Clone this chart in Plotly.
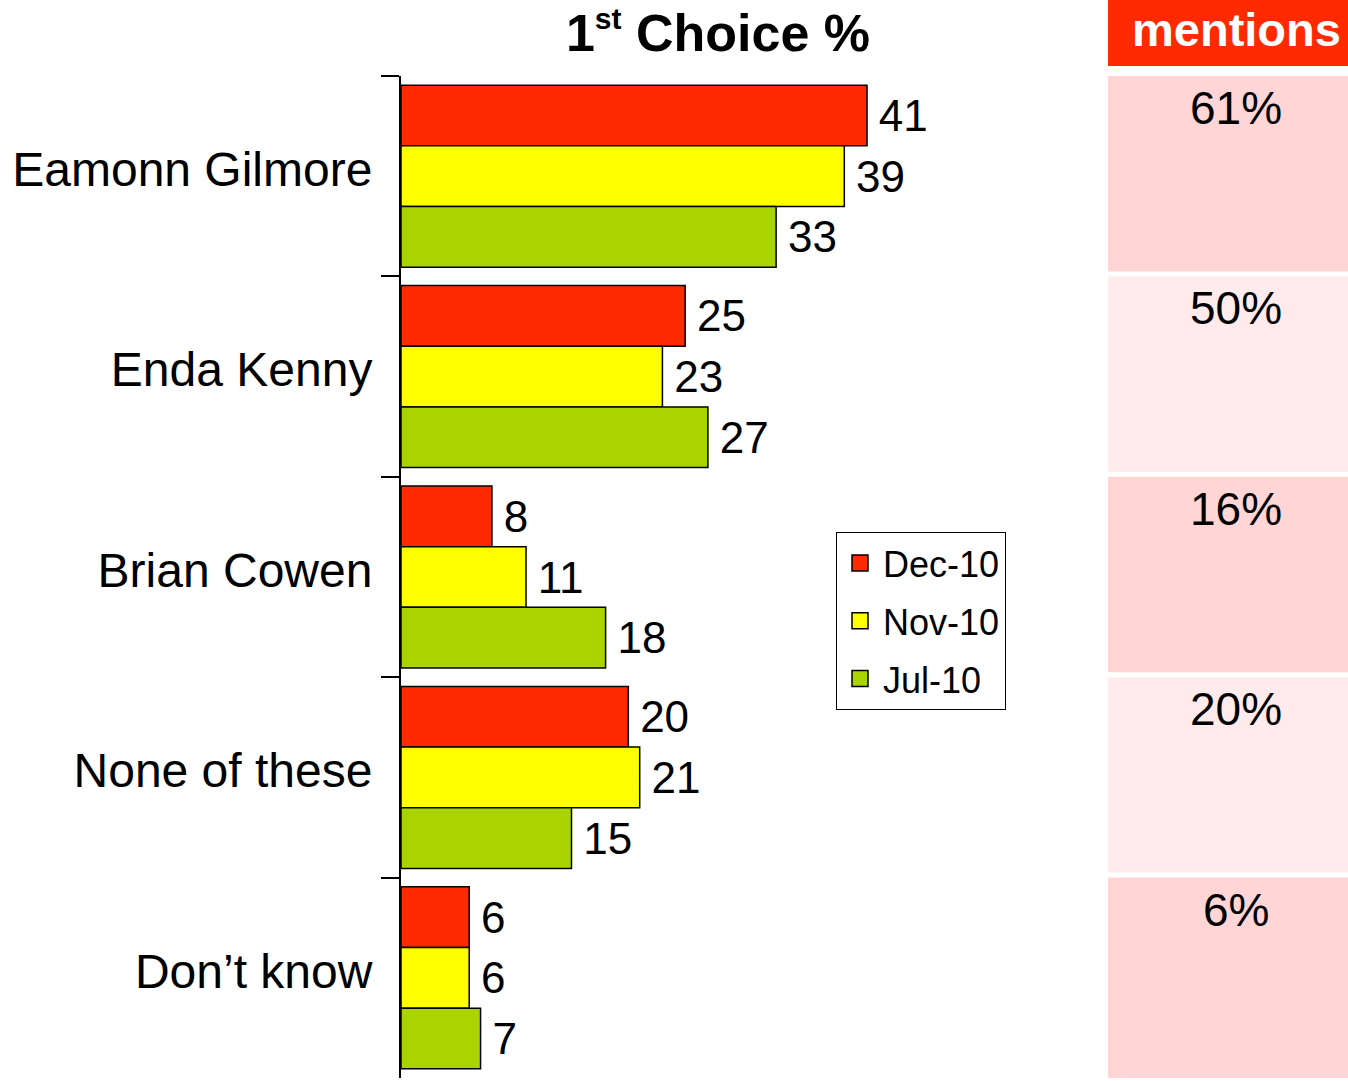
import plotly.graph_objects as go

categories = ["Eamonn Gilmore", "Enda Kenny", "Brian Cowen", "None of these", "Don’t know"]
series_names = ["Dec-10", "Nov-10", "Jul-10"]
dec_10 = [41, 25, 8, 20, 6]
nov_10 = [39, 23, 11, 21, 6]
jul_10 = [33, 27, 18, 15, 7]
mentions = [61, 50, 16, 20, 6]

colors = ["#FF2A00", "#FFFF00", "#AAD400"]
cell_colors = ["#FFD5D5", "#FFEBEB", "#FFD5D5", "#FFEBEB", "#FFD5D5"]
FONT = "Liberation Sans, Arial, Helvetica, sans-serif"

W, H = 1348, 1081
L, T, B, R = 401, 76, 3, 0
pw = W - L - R
ph = H - T - B

fig = go.Figure()
for name, vals, col in zip(series_names, [dec_10, nov_10, jul_10], colors):
    fig.add_trace(go.Bar(
        y=categories, x=vals, orientation="h", name=name,
        marker=dict(color=col, line=dict(color="black", width=1.5)),
        text=["\u2009" + str(v) for v in vals], textposition="outside",
        textfont=dict(size=44, color="black", family=FONT),
        constraintext="none", cliponaxis=False, showlegend=False,
        hoverinfo="skip",
    ))
    # legend entry
    fig.add_trace(go.Scatter(
        x=[None], y=[None], mode="markers", name=name,
        marker=dict(symbol="square", size=20, color=col, line=dict(color="black", width=1.5)),
        legendgroup=name, showlegend=True,
    ))

# mentions panel cells
n = len(categories)
cell_widths = [0.975 if i < n - 1 else 1.02 for i in range(n)]
fig.add_trace(go.Bar(
    y=categories, x=[1] * n, orientation="h",
    xaxis="x2", yaxis="y", width=cell_widths, offset=-0.5,
    marker=dict(color=cell_colors, line=dict(width=0)),
    showlegend=False, hoverinfo="skip", cliponaxis=False,
))

annotations = []
for i, m in enumerate(mentions):
    annotations.append(dict(
        x=0.5, xref="x2 domain", y=i - 0.5, yref="y", yanchor="top",
        text=f"{m}%", showarrow=False, xshift=8, yshift=-4,
        font=dict(size=46, color="black", family=FONT),
    ))

annotations.append(dict(
    x=0.5, xref="x2 domain", y=(ph + T - 33) / ph, yref="paper",
    yanchor="middle", text="<b>mentions</b>", showarrow=False, xshift=8, yshift=4,
    font=dict(size=47, color="white", family=FONT),
))

shapes = [dict(
    type="rect", xref="x2 domain", x0=0, x1=1, yref="paper",
    y0=(ph - (66 - T)) / ph, y1=(ph + T) / ph,
    fillcolor="#FF2A00", line=dict(width=0), layer="below",
)]

fig.update_layout(
    width=W, height=H,
    margin=dict(l=L, r=R, t=T, b=B, pad=0),
    paper_bgcolor="white", plot_bgcolor="white",
    barmode="group", bargap=0.092, bargroupgap=0,
    font=dict(family=FONT, color="black"),
    title=dict(text="<b>1<sup><span style='font-size:30px'>st</span></sup> Choice %</b>",
               x=718 / W, xanchor="center",
               y=1 - 33 / H, yanchor="middle", yref="container",
               font=dict(size=52, color="black", family=FONT)),
    xaxis=dict(domain=[0, (1083 - L) / pw], range=[0, 60], visible=False, fixedrange=True),
    xaxis2=dict(domain=[(1108 - L) / pw, 1], range=[0, 1], visible=False, anchor="y", fixedrange=True),
    yaxis=dict(range=[n - 0.5, -0.5], autorange=False,
               showline=True, linecolor="black", linewidth=2,
               ticks="outside", ticklen=18, tickwidth=1.5, tickcolor="black",
               tickson="boundaries", showgrid=False, zeroline=False,
               tickfont=dict(size=48, color="black", family=FONT),
               ticklabelstandoff=17, ticklabelshift=7, fixedrange=True),
    legend=dict(x=(836 - L) / pw, xanchor="left", y=(ph - (532 - T)) / ph, yanchor="top",
                bordercolor="black", borderwidth=1, bgcolor="white",
                font=dict(size=36, color="black", family=FONT),
                traceorder="grouped", tracegroupgap=8, itemwidth=36),
    annotations=annotations, shapes=shapes,
)

fig.write_html("out.html", config={"displayModeBar": False},
               post_script="document.body.style.margin='0';document.body.style.overflow='hidden';")
